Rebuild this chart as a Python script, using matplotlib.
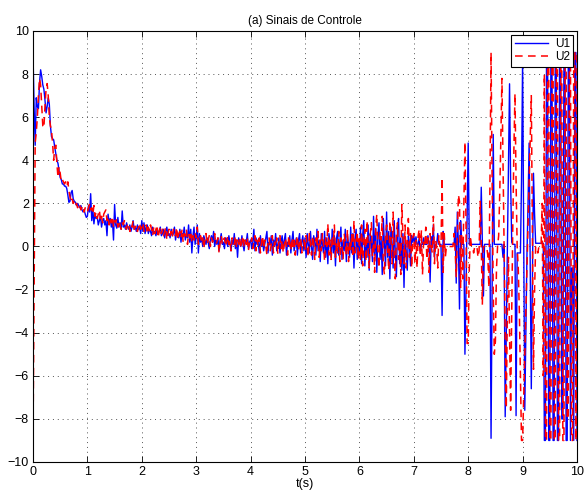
import numpy as np
import matplotlib
matplotlib.use('Agg')
import matplotlib.pyplot as plt

plt.rcParams['font.family'] = ['Liberation Sans', 'DejaVu Sans']

# amostras a cada 0.02 s, de 0 a 10 s
t = np.linspace(0, 10, 501)

# U1 (azul)
u1 = [
    9.0, 6.5, 4.7, 6.9, 6.5, 6.4, 7.6, 8.2, 7.9, 7.5,
    7.3, 6.8, 6.2, 6.5, 6.9, 6.6, 5.6, 5.1, 5.0, 4.95,
    4.6, 4.3, 4.0, 3.85, 3.5, 3.2, 3.1, 2.9, 2.9, 2.8,
    2.8, 2.7, 2.4, 2.05, 2.1, 2.5, 2.6, 2.2, 2.1, 2.05,
    1.9, 2.0, 1.9, 1.8, 1.9, 1.7, 1.6, 1.7, 1.5, 1.35,
    # 1 s
    1.4, 1.9, 1.6, 2.45, 1.2, 1.7, 1.05, 1.5, 1.3, 1.4,
    1.0, 1.2, 1.4, 0.9, 1.2, 1.3, 1.0, 1.2, 0.5, 1.5,
    1.1, 1.3, 0.9, 1.2, 0.3, 1.95, 1.0, 0.85, 1.35, 0.9,
    1.1, 0.8, 1.65, 0.9, 1.0, 0.8, 1.1, 0.9, 0.8, 1.0,
    0.7, 0.9, 1.2, 0.8, 0.9, 0.7, 1.0, 0.8, 0.9, 0.6,
    # 2 s
    1.2, 0.7, 1.1, 0.6, 0.9, 1.0, 0.6, 0.8, 0.7, 0.5,
    0.9, 0.6, 0.7, 0.5, 0.8, 0.6, 0.7, 0.9, 0.5, 0.6,
    0.8, 0.4, 0.7, 0.9, 0.5, 0.6, 0.4, 0.8, 0.5, 0.6,
    0.9, 0.3, 0.7, 0.5, 0.4, 0.8, 0.2, 0.6, 0.5, 0.9,
    0.3, 0.6, 0.4, 1.0, 0.2, 0.8, -0.3, 0.5, 0.9, 0.1,
    # 3 s
    0.4, 1.0, -0.3, 0.6, 0.2, 0.4, 0.0, 0.5, 0.3, 0.1,
    0.4, 0.2, -0.1, 0.3, 0.5, 0.2, 0.7, 0.0, 0.3, 0.1,
    0.4, -0.2, 0.3, 0.6, 0.1, 0.2, -0.1, 0.4, 0.3, 0.0,
    0.5, 0.2, -0.2, 0.3, 0.1, 0.6, -0.1, 0.3, -0.5, 0.4,
    0.2, 0.0, 0.5, 0.1, -0.2, 0.3, 0.2, 0.6, -0.1, 0.2,
    # 4 s
    0.3, -0.1, 0.2, 0.8, -0.2, 0.4, 0.1, 0.2, -0.3, 0.5,
    0.0, 0.3, -0.2, 0.1, 0.4, 0.7, -0.3, 0.2, 0.1, 0.5,
    -0.4, 0.3, 0.0, 0.6, -0.2, 0.1, 0.4, -0.3, 0.2, 0.5,
    -0.1, 0.3, 0.6, -0.4, 0.2, 0.0, 0.5, -0.3, 0.3, 0.7,
    -0.2, 0.1, 0.4, -0.4, 0.3, 0.6, -0.3, 0.2, 0.5, -0.2,
    # 5 s
    0.4, -0.5, 0.6, 0.1, -0.3, 0.7, 0.0, -0.6, 0.5, 0.2,
    -0.4, 0.8, -0.2, 0.3, -0.7, 0.6, 0.1, -0.3, 0.7, -0.5,
    0.4, -0.8, 0.6, 0.2, -0.5, 0.8, -0.3, 0.5, -0.9, 0.4,
    0.7, -0.4, 0.2, 0.9, -0.6, 0.3, -0.2, 0.8, -0.7, 0.5,
    0.1, -0.5, 0.9, -0.3, 0.6, -1.0, 0.4, 0.8, -0.6, 0.3,
    # 6 s
    -0.4, 0.9, -0.8, 0.5, 1.2, -0.9, 0.3, -0.5, 1.0, -1.1,
    0.6, 0.2, -0.7, 1.4, -0.4, 0.8, -1.2, 0.5, 1.1, -0.6,
    0.3, -1.3, 1.3, 0.1, -0.9, 1.6, -0.5, 0.7, -1.5, 0.9,
    0.2, -1.0, 1.2, -0.3, -1.4, 0.8, 1.3, -0.8, 0.4, -1.1,
    0.6, -1.9, 0.45, -0.2, -1.1, 0.5, 0.1, -0.9, 0.5, 0.2,
    # 7 s
    0.5, 0.1, 0.45, 0.1, 0.1, 0.4, -0.3, 0.1, 0.1, 0.4,
    0.1, 0.1, 0.1, 0.5, 0.1, -1.65, 0.45, 0.1, 1.0, -0.5,
    0.1, 0.1, 0.6, 0.1, 0.1, 0.1, -3.2, 0.7, 0.1, 0.1,
    0.1, 0.1, 0.1, 0.1, 0.1, 0.1, 0.1, 0.1, 0.9, -1.7,
    1.6, 0.1, -2.9, 1.2, 0.1, 0.1, 0.1, -5.0, -2.0, 1.5,
    # 8 s
    4.8, 0.1, 0.1, 0.1, 0.1, 0.1, 0.1, 0.1, 0.1, 0.1,
    0.1, 0.1, 2.75, 0.3, -2.3, 0.1, 0.1, 0.1, 0.1, 0.1,
    0.1, -8.9, -2.0, 5.2, 0.1, 0.1, 0.1, 0.1, 0.1, 0.1,
    0.1, 0.1, -0.5, 0.1, -7.9, -4.0, 0.0, 4.0, 7.55, 3.0,
    0.2, 0.1, 0.1, 0.1, -7.85, -0.3, -0.3, -0.3, -0.3, 3.0,
    # 9 s
    8.7, 0.5, -7.6, -4.0, -0.4, 2.0, 4.8, -1.0, -6.6, -1.5,
    3.4, 1.5, 0.15, 0.15, 0.15, 0.15, 0.15, 0.15, 0.15, 0.15,
    -9.0, -9.0, 9.0, 9.0, -9.0, -9.0, 9.0, 9.0, -9.0, -9.0,
    9.0, 9.0, -9.0, -9.0, 9.0, 9.0, -8.0, -8.0, 9.0, 9.0,
    -9.0, -9.0, 9.0, 9.0, -9.0, -1.0, -1.0, -9.0, 9.0, 9.0,
    -9.0,
]

# U2 (vermelho tracejado)
u2 = [
    -9.0, -2.0, 4.8, 5.3, 6.0, 7.0, 7.8, 7.5, 6.5, 5.6,
    5.5, 6.5, 7.3, 7.56, 7.0, 6.0, 5.6, 5.4, 4.8, 4.0,
    4.6, 4.7, 3.8, 3.2, 3.7, 3.4, 3.0, 3.1, 3.0, 2.9,
    3.0, 2.8, 3.0, 2.6, 2.3, 2.05, 2.2, 2.0, 2.1, 1.9,
    2.0, 1.8, 2.0, 1.9, 1.7, 1.8, 1.9, 1.6, 1.8, 1.7,
    # 1 s
    1.6, 1.8, 2.0, 1.7, 1.8, 1.5, 1.9, 1.4, 1.6, 1.3,
    1.5, 1.7, 1.2, 1.4, 1.1, 1.5, 1.6, 1.7, 1.2, 1.4,
    1.0, 1.3, 1.1, 1.4, 0.9, 1.2, 1.1, 1.3, 0.9, 1.2,
    1.0, 0.8, 1.1, 1.0, 1.2, 0.9, 0.8, 1.1, 1.0, 0.7,
    1.0, 0.9, 1.2, 0.8, 0.9, 1.0, 0.7, 0.9, 1.1, 0.8,
    # 2 s
    0.9, 1.1, 0.7, 0.8, 1.0, 0.6, 0.9, 0.7, 1.0, 0.8,
    0.5, 0.9, 0.6, 0.8, 1.0, 0.4, 0.7, 0.9, 0.6, 0.8,
    0.5, 0.7, 0.9, 0.3, 0.6, 0.8, 0.5, 0.7, 0.4, 0.8,
    0.6, 0.5, 0.9, 0.3, 0.6, 0.7, 0.4, 0.8, 0.2, 0.6,
    0.5, 0.8, 0.1, 0.6, 0.4, 0.7, 0.2, 0.5, 0.3, 0.6,
    # 3 s
    0.4, 0.9, 0.1, 0.3, 0.5, 0.2, 0.4, -0.1, 0.3, 0.6,
    0.1, 0.3, 0.5, 0.0, 0.4, 0.2, 0.3, 0.6, 0.1, 0.2,
    0.4, -0.3, 0.2, 0.5, 0.1, 0.3, 0.4, 0.0, 0.2, 0.5,
    0.1, 0.3, -0.2, 0.4, 0.2, 0.1, 0.5, 0.0, 0.3, 0.1,
    0.4, -0.1, 0.2, 0.5, 0.0, 0.3, 0.1, 0.4, -0.2, 0.2,
    # 4 s
    0.1, 0.4, -0.1, 0.2, 0.5, -0.2, 0.3, 0.0, 0.4, -0.3,
    0.2, 0.5, -0.1, 0.3, 0.0, -0.4, 0.3, 0.4, -0.2, 0.1,
    0.5, -0.3, 0.2, 0.0, 0.4, -0.35, 0.2, 0.5, -0.1, 0.3,
    -0.3, 0.1, 0.4, 0.0, -0.4, 0.5, 0.1, -0.2, 0.4, 0.0,
    0.3, -0.4, 0.2, 0.5, -0.2, 0.1, 0.4, -0.3, 0.2, 0.3,
    # 5 s
    -0.2, 0.5, 0.0, -0.5, 0.6, 0.1, -0.4, 0.5, 0.2, -0.6,
    0.4, 0.0, 0.7, -0.5, 0.3, -0.2, 0.6, 0.1, -0.7, 0.4,
    0.0, 1.05, -0.4, 0.3, -0.6, 0.5, 0.1, 1.0, -0.5, 0.2,
    -0.3, 0.7, -0.7, 0.4, 0.0, -0.6, 0.6, 0.2, -0.4, 0.8,
    -0.7, 0.3, -0.2, 0.6, -0.5, 1.2, -0.3, 0.1, 0.7, -0.6,
    # 6 s
    0.5, -0.6, 1.0, -0.9, 0.3, 0.8, -0.7, 1.2, 0.0, -1.0,
    0.6, 1.1, -0.5, 0.2, -1.2, 0.9, 1.5, -0.3, -1.0, 0.7,
    0.3, 1.4, -0.9, -1.3, 0.5, 1.0, -0.2, -1.1, 1.2, 0.4,
    -0.8, 1.6, -0.4, -1.5, 0.7, 1.1, -0.6, 0.2, -1.3, 1.95,
    0.5, -0.8, 1.0, -1.0, 0.3, 1.3, -0.5, 0.6, -1.0, 0.4,
    # 7 s
    0.6, -0.8, 0.3, -1.0, 0.5, 0.8, -0.4, 0.75, -1.3, 0.2,
    0.0, 0.9, -0.6, 0.4, -1.2, 0.6, 0.0, -0.3, 1.4, -0.8,
    0.3, 0.0, -1.0, 0.5, 0.0, 0.0, 3.2, -1.2, 0.6, -0.5,
    0.0, 0.0, 0.0, 0.0, 0.0, 0.0, 0.0, 0.6, -0.2, -1.4,
    0.5, 2.4, 2.1, -1.9, 0.5, -1.5, 2.0, 4.85, 1.0, -4.5,
    # 8 s
    -4.5, -1.0, 0.5, 0.0, 0.0, -0.3, 0.0, 0.0, 0.0, -0.5,
    -0.2, 2.1, 0.0, -2.7, 0.0, 0.0, 0.0, 0.0, -0.4, -1.9,
    3.0, 9.0, 3.0, -2.0, -5.0, -4.4, -1.0, 0.0, 0.5, 2.5,
    5.0, 7.8, 4.0, 0.0, -4.0, -7.5, -3.0, -0.5, -4.0, -7.6,
    -3.0, 1.0, 4.5, 7.1, 3.0, 0.0, -1.0, -3.0, -6.0, -9.0,
    # 9 s
    -9.0, -7.0, -5.0, -3.0, -1.0, 1.0, 3.0, 5.0, 7.0, 0.5,
    -5.7, -2.0, 0.0, 0.0, -0.3, 0.0, 0.0, 0.0, 2.0, -6.0,
    8.0, -9.0, -9.0, 9.0, 9.0, -9.0, -9.0, 9.0, 9.0, -9.0,
    -9.0, 9.0, 9.0, -9.0, -9.0, 9.0, 9.0, -9.0, -9.0, 9.0,
    9.0, -8.0, -8.0, 9.0, 9.0, -9.0, -9.0, 9.0, 9.0, -9.0,
    9.0,
]

assert len(u1) == len(t) and len(u2) == len(t)

fig = plt.figure(figsize=(5.84, 4.93), dpi=100)
ax = fig.add_axes([33 / 584, 31 / 493, 544 / 584, 431 / 493])

ax.plot(t, u1, color='b', lw=1.0, label='U1')
ax.plot(t, u2, color='r', lw=1.1, linestyle='--', dashes=(5, 3.5), label='U2')

ax.set_xlim(0, 10)
ax.set_ylim(-10, 10)
ax.set_xticks(range(0, 11))
ax.set_yticks(range(-10, 11, 2))
ax.set_yticklabels([('\u2212' + str(-v)) if v < 0 else str(v) for v in range(-10, 11, 2)])
ax.tick_params(direction='in', top=True, right=True, length=4, width=0.6,
               labelsize=9, pad=3)
ax.grid(True, linestyle=(0, (1, 4)), color='#555555', linewidth=0.7)
for s in ax.spines.values():
    s.set_linewidth(0.8)

ax.set_title('(a) Sinais de Controle', fontsize=8.5, pad=5)
ax.set_xlabel('t(s)', fontsize=9, labelpad=0)

leg = ax.legend(loc='upper right', fontsize=8.5, fancybox=False, framealpha=1,
                edgecolor='k', borderaxespad=0.3, handlelength=2.8,
                borderpad=0.3, labelspacing=0.1, handletextpad=0.6)
leg.get_frame().set_linewidth(0.8)

fig.savefig('out.png', dpi=100)
